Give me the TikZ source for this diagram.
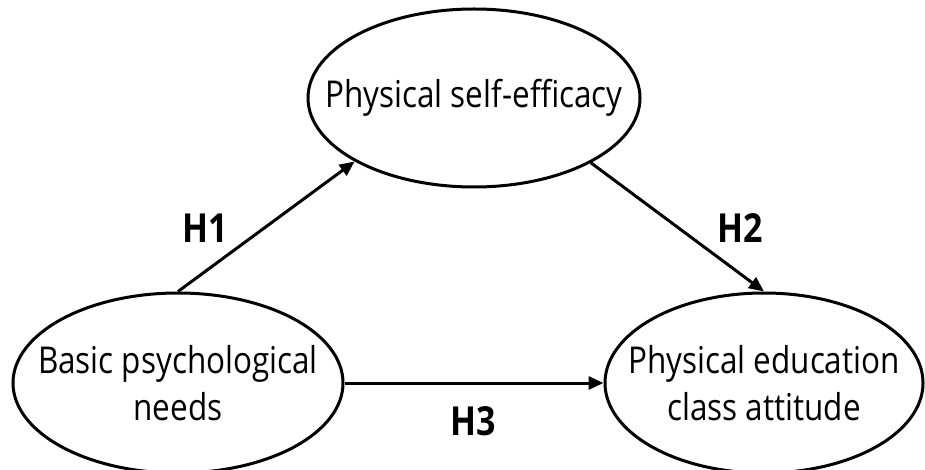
\documentclass[tikz,border=0pt]{standalone}
\usepackage{fontspec}
\setmainfont{Open Sans}[FakeStretch=0.85]
\usetikzlibrary{shapes.geometric,arrows.meta}
\begin{document}
\begin{tikzpicture}[x=1pt,y=-1pt,
  ell/.style={draw, line width=3pt, ellipse, inner sep=0pt},
  txt/.style={align=center, font=\fontsize{37}{47}\selectfont, inner sep=0pt},
  hyp/.style={font=\fontsize{40}{48}\selectfont\bfseries, inner sep=0pt},
  arr/.style={line width=3pt, -{Triangle[length=15pt,width=13pt]}}
]
\useasboundingbox (0,0) rectangle (925,470);
\node[ell, minimum width=332pt, minimum height=178pt,
      label={[txt]center:Physical self-efficacy}] (top) at (474,98) {};
\node[ell, minimum width=330pt, minimum height=180pt,
      label={[txt]center:Basic psychological\\needs}] (left) at (178,383) {};
\node[ell, minimum width=318pt, minimum height=180pt,
      label={[txt]center:Physical education\\class attitude}] (right) at (764,383) {};
\draw[arr] (left.north) -- (top.208);
\draw[arr] (top.331) -- (right.north);
\draw[arr] (left.east) -- (right.west);
\node[hyp] (h1) at (205,228) {H1};
\node[hyp] (h2) at (740,228) {H2};
\node[hyp] (h3) at (473,421) {H3};
\end{tikzpicture}
\end{document}
